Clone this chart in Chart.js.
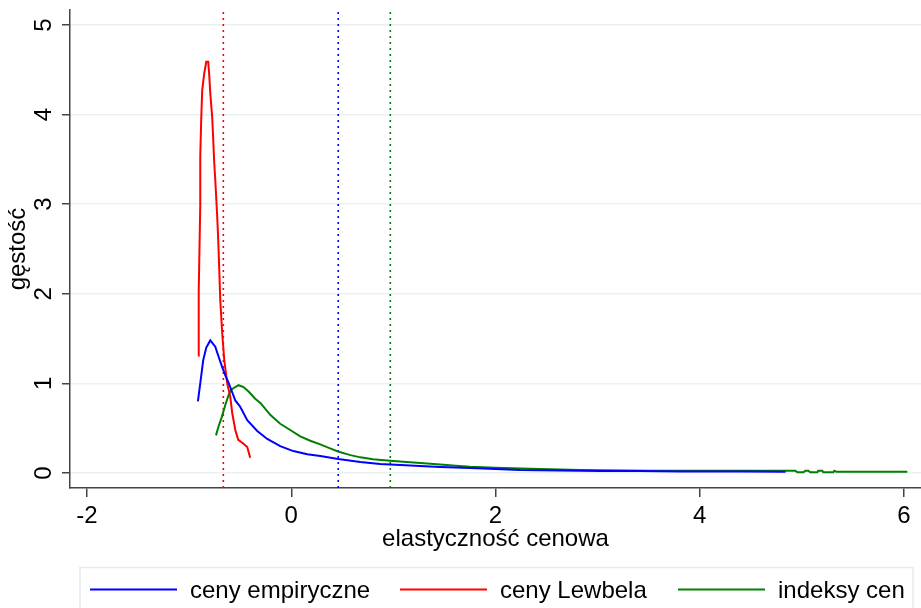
<!DOCTYPE html>
<html><head><meta charset="utf-8">
<script src="https://cdn.jsdelivr.net/npm/chart.js@4.4.1/dist/chart.umd.min.js"></script>
<style>html,body{margin:0;padding:0;background:#fff;}#wrap{width:921px;height:608px;position:relative;}</style>
</head><body><div id="wrap"><canvas id="c"></canvas></div>
<script>
const xTicks = [-2, 0, 2, 4, 6];
const yTicks = [0, 1, 2, 3, 4, 5];
const xRange = [-2.1665, 6.1665];
const yRange = [-0.167, 5.167];
const seriesNames = ['ceny empiryczne', 'ceny Lewbela', 'indeksy cen'];
const seriesColors = ['#0000ff', '#ff0000', '#008000'];
const refLines = [0.46, -0.665, 0.97];

const empX = [-0.914,-0.891,-0.862,-0.832,-0.793,-0.744,-0.712,-0.679,-0.646,-0.614,-0.581,-0.548,-0.50,-0.431,-0.333,-0.235,-0.108,0.02,0.157,0.284,0.46,0.676,0.87,1.07,1.26,1.46,1.75,2.0,2.24,2.63,3.03,3.42,3.81,4.40,4.84];
const empY = [0.80,1.00,1.26,1.40,1.48,1.41,1.30,1.19,1.09,1.01,0.91,0.81,0.74,0.59,0.47,0.38,0.30,0.245,0.21,0.19,0.156,0.123,0.10,0.089,0.078,0.067,0.056,0.045,0.034,0.028,0.022,0.022,0.017,0.017,0.015];

const lewX = [-0.911,-0.906,-0.891,-0.891,-0.881,-0.872,-0.852,-0.832,-0.813,-0.803,-0.793,-0.774,-0.764,-0.754,-0.744,-0.735,-0.725,-0.715,-0.705,-0.695,-0.676,-0.656,-0.627,-0.597,-0.578,-0.548,-0.519,-0.470,-0.431,-0.402];
const lewY = [1.31,2.04,2.99,3.53,3.97,4.27,4.46,4.59,4.59,4.44,4.24,3.97,3.72,3.46,3.27,3.08,2.86,2.60,2.27,1.93,1.56,1.26,1.00,0.85,0.67,0.48,0.37,0.33,0.29,0.17];

const idxX = [-0.737,-0.712,-0.679,-0.646,-0.614,-0.588,-0.548,-0.516,-0.467,-0.418,-0.353,-0.30,-0.206,-0.108,-0.01,0.088,0.186,0.284,0.38,0.457,0.58,0.676,0.80,0.97,1.13,1.30,1.46,1.61,1.75,2.0,2.34,2.83,3.52,4.0,4.936,4.956,5.015,5.034,5.063,5.083,5.152,5.161,5.200,5.21,5.307,5.317,5.336,6.033];
const idxY = [0.42,0.52,0.63,0.76,0.87,0.93,0.96,0.98,0.96,0.91,0.83,0.78,0.65,0.55,0.48,0.41,0.36,0.32,0.275,0.24,0.20,0.175,0.153,0.137,0.123,0.108,0.095,0.081,0.07,0.059,0.048,0.033,0.026,0.026,0.026,0.008,0.008,0.026,0.026,0.008,0.008,0.026,0.026,0.008,0.008,0.026,0.015,0.015];

const FAMILY = '"Liberation Sans", Arial, sans-serif';
const zip = (xs, ys) => xs.map((x, i) => ({x: x, y: ys[i]}));
const curves = [zip(empX, empY), zip(lewX, lewY), zip(idxX, idxY)];

const datasets = [];
curves.forEach((pts, i) => {
  datasets.push({label: seriesNames[i], data: pts, borderColor: seriesColors[i], backgroundColor: seriesColors[i],
    borderWidth: 2, pointRadius: 0, tension: 0, fill: false, isCurve: true});
});
refLines.forEach((v, i) => {
  datasets.push({label: 'ref' + i, data: [{x: v, y: yRange[0]}, {x: v, y: yRange[1]}], borderColor: seriesColors[i],
    borderWidth: 1.6, borderDash: [2, 4], pointRadius: 0, fill: false, isCurve: false});
});

const custom = {
  id: 'custom',
  afterDraw(chart) {
    const ctx = chart.ctx, ys = chart.scales.y;
    ctx.save();
    ctx.font = '24px ' + FAMILY;
    ctx.fillStyle = '#000';
    ctx.textAlign = 'center';
    ctx.textBaseline = 'alphabetic';
    yTicks.forEach(v => {
      const py = ys.getPixelForValue(v);
      ctx.save(); ctx.translate(50.5, py); ctx.rotate(-Math.PI / 2); ctx.fillText(String(v), 0, 0); ctx.restore();
    });
    // legend
    ctx.strokeStyle = '#e4ecee'; ctx.lineWidth = 1.5;
    ctx.strokeRect(80, 567.5, 833, 60);
    const starts = [90, 400, 678];
    ctx.textAlign = 'left';
    chart.data.datasets.filter(d => d.isCurve).forEach((d, i) => {
      ctx.strokeStyle = d.borderColor; ctx.lineWidth = 2;
      ctx.beginPath(); ctx.moveTo(starts[i], 589.5); ctx.lineTo(starts[i] + 87, 589.5); ctx.stroke();
      ctx.fillStyle = '#000';
      ctx.fillText(d.label, starts[i] + 100, 598);
    });
    ctx.restore();
  }
};

new Chart(document.getElementById('c'), {
  type: 'line',
  data: {datasets: datasets},
  plugins: [custom],
  options: {
    responsive: true, maintainAspectRatio: false, animation: false,
    layout: {padding: {top: 10, left: 0, right: 0, bottom: 0}},
    plugins: {legend: {display: false}, tooltip: {enabled: false}, title: {display: false}},
    scales: {
      x: {type: 'linear', min: xRange[0], max: xRange[1],
        afterBuildTicks: s => { s.ticks = xTicks.map(v => ({value: v})); },
        afterFit: s => { s.height = 120; },
        grid: {drawOnChartArea: false, tickLength: 9, tickColor: '#444', lineWidth: 1.5},
        border: {display: true, color: '#444', width: 1.5},
        ticks: {font: {size: 24, family: FAMILY}, color: '#000', padding: 5, maxRotation: 0, autoSkip: false},
        title: {display: true, text: 'elastyczność cenowa', font: {size: 24, family: FAMILY}, color: '#000', padding: {top: 0, bottom: 54}}
      },
      y: {type: 'linear', min: yRange[0], max: yRange[1],
        afterBuildTicks: s => { s.ticks = yTicks.map(v => ({value: v})); },
        afterFit: s => { s.width = 70; },
        grid: {color: '#eaf1f3', lineWidth: 1.5, tickLength: 8, tickColor: '#444'},
        border: {display: true, color: '#444', width: 1.5},
        ticks: {display: false},
        title: {display: true, text: 'gęstość', font: {size: 24, family: FAMILY}, color: '#000', padding: {top: 4, bottom: 0}}
      }
    }
  }
});
</script>
</body></html>
